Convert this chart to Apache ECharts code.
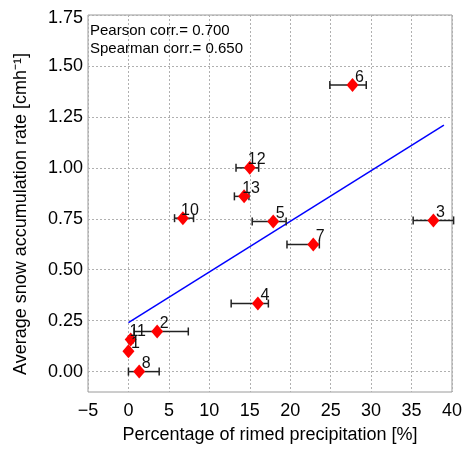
<!DOCTYPE html>
<html>
<head>
<meta charset="utf-8">
<script src="https://cdn.jsdelivr.net/npm/echarts@6/dist/echarts.min.js"></script>
<style>html,body{margin:0;padding:0;background:#fff}#c{width:465px;height:449px}</style>
</head>
<body>
<div id="c"></div>
<script>
// Point labels (event numbers)
const ids = ['1', '2', '3', '4', '5', '6', '7', '8', '10', '11', '12', '13'];
// Percentage of rimed precipitation [%]
const rimed = [0.0, 3.55, 37.7, 16.0, 17.9, 27.7, 22.85, 1.33, 6.73, 0.28, 15.0, 14.3];
// Error bar low / high ends [%]
const rimedLow = [0.0, 0.7, 35.2, 12.7, 15.3, 24.9, 19.6, 0.0, 5.7, 0.0, 13.3, 13.1];
const rimedHigh = [0.0, 7.4, 40.2, 17.3, 19.5, 29.4, 23.6, 3.8, 8.05, 0.6, 16.1, 14.9];
// Average snow accumulation rate [cm/h]
const accum = [0.10, 0.197, 0.742, 0.334, 0.737, 1.406, 0.624, 0.0, 0.753, 0.158, 1.00, 0.86];
// Regression line end points
const fitX = [0.0, 39.0];
const fitY = [0.24, 1.21];
// Tick values
const yTicks = [0, 0.25, 0.5, 0.75, 1.0, 1.25, 1.5, 1.75];
const statsText = ['Pearson corr.= 0.700', 'Spearman corr.= 0.650'];
const yName = 'Average snow accumulation rate [cmh\u207B\u00B9]';

const FONT = 'Liberation Sans';
const pts = ids.map((id, i) => ({ name: id, value: [rimed[i], accum[i]] }));
const bars = ids.map((id, i) => [rimed[i], accum[i], rimedLow[i], rimedHigh[i]]);
const fit = fitX.map((x, i) => [x, fitY[i]]);

const chart = echarts.init(document.getElementById('c'), null, { renderer: 'canvas' });
chart.setOption({
  animation: false,
  backgroundColor: '#fff',
  grid: { left: 88, right: 13, top: 15, bottom: 52, show: true, borderColor: '#9a9a9a', borderWidth: 1 },
  xAxis: {
    type: 'value', min: -5, max: 40, interval: 5,
    name: 'Percentage of rimed precipitation [%]', nameLocation: 'middle', nameGap: 34,
    nameTextStyle: { fontFamily: FONT, fontSize: 18, color: '#000' },
    axisLine: { show: false },
    axisTick: { show: false },
    axisLabel: { fontFamily: FONT, fontSize: 18, color: '#000', margin: 10,
      formatter: v => String(v).replace('-', '\u2212') },
    splitLine: { show: true, lineStyle: { color: '#b0b0b0', type: [2, 2], width: 1 } }
  },
  yAxis: {
    type: 'value', min: -0.1, max: 1.75,
    axisLine: { show: false },
    axisTick: { show: false, customValues: yTicks },
    axisLabel: { fontFamily: FONT, fontSize: 18, color: '#000', margin: 5, customValues: yTicks,
      formatter: v => v >= 1.74 ? '{top|' + v.toFixed(2) + '}' : v.toFixed(2),
      rich: { top: { fontFamily: FONT, fontSize: 18, color: '#000', padding: [7, 0, 0, 0] } } },
    splitLine: { show: true, lineStyle: { color: '#b0b0b0', type: [2, 2], width: 1 } }
  },
  graphic: statsText.map((t, i) => ({
    type: 'text', left: 90, top: 23 + i * 18, z: 10,
    style: { text: t, fontFamily: FONT, fontSize: 15, fill: '#000' }
  })).concat([{
    type: 'text', x: 21, y: 214, rotation: Math.PI / 2, z: 10,
    style: { text: yName, fontFamily: FONT, fontSize: 18, fill: '#000', align: 'center', verticalAlign: 'middle' }
  }]),
  series: [
    {
      type: 'line', data: fit, symbol: 'none', z: 2,
      lineStyle: { color: '#0000ff', width: 1.5 }, silent: true
    },
    {
      type: 'custom', data: bars, z: 3,
      encode: { x: [2, 3], y: 1 },
      renderItem: (params, api) => {
        const y = api.value(1), lo = api.value(2), hi = api.value(3);
        const a = api.coord([lo, y]), b = api.coord([hi, y]);
        const h = 4;
        const st = { stroke: '#222', lineWidth: 1.5 };
        return { type: 'group', children: [
          { type: 'line', shape: { x1: a[0], y1: a[1], x2: b[0], y2: b[1] }, style: st },
          { type: 'line', shape: { x1: a[0], y1: a[1] - h, x2: a[0], y2: a[1] + h }, style: st },
          { type: 'line', shape: { x1: b[0], y1: b[1] - h, x2: b[0], y2: b[1] + h }, style: st }
        ] };
      }
    },
    {
      type: 'scatter', data: pts, z: 4,
      symbol: 'diamond', symbolSize: [12, 14],
      itemStyle: { color: '#ff0000', opacity: 1 },
      label: { show: true, formatter: p => p.name, position: 'inside', offset: [7, -8],
        fontFamily: FONT, fontSize: 16, color: '#111' }
    }
  ]
});
</script>
</body>
</html>
